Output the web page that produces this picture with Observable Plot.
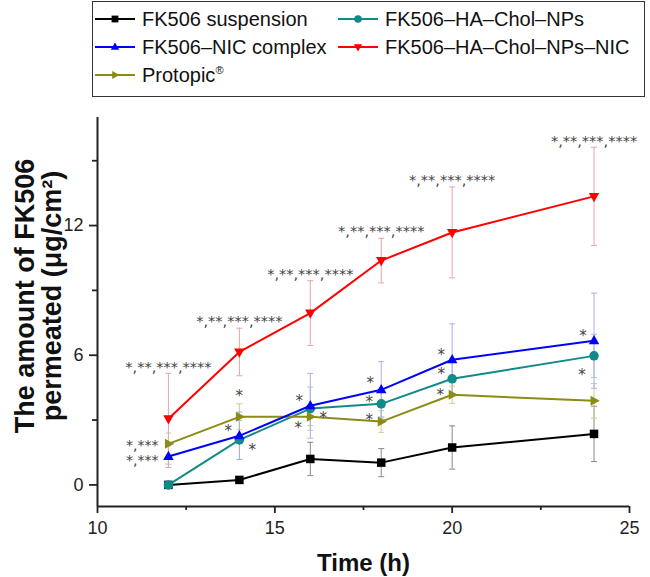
<!DOCTYPE html>
<html>
<head>
<meta charset="utf-8">
<script src="https://cdn.jsdelivr.net/npm/d3@7"></script>
<script src="https://cdn.jsdelivr.net/npm/@observablehq/plot@0.6"></script>
<style>
  body { margin: 0; background: #fff; font-family: "Liberation Sans", Arial, sans-serif; }
  #wrap { position: relative; width: 650px; height: 577px; }
  #legend { position: relative; width: 650px; height: 100px; }
  .lbox { position: absolute; left: 92px; top: 1px; width: 553px; height: 96px; border: 1.5px solid #333; box-sizing: border-box; }
  .item { position: absolute; display: flex; align-items: center; font-size: 20px; color: #111; white-space: nowrap; line-height: 1; }
  .item svg { margin-right: 7px; }
  .item sup { font-size: 11px; vertical-align: 8px; }
</style>
</head>
<body>
<div id="wrap"><div id="legend"><div class="lbox"></div></div><div id="chart"></div></div>
<script>
// ---- data ----
const times = [12, 14, 16, 18, 20, 24];
const suspensionMean = [0, 0.23, 1.2, 1.03, 1.73, 2.36];
const suspensionErr  = [0, 0.15, 0.77, 0.65, 1.0, 1.28];
const npsMean        = [0, 2.08, 3.53, 3.75, 4.91, 5.97];
const npsErr         = [0, 0.9, 1.0, 0.6, 0.8, 1.0];
const protopicMean   = [1.9, 3.15, 3.15, 2.93, 4.17, 3.89];
const protopicErr    = [0.5, 0.6, 0.4, 0.5, 0.4, 0.8];
const nicComplexMean = [1.31, 2.27, 3.66, 4.4, 5.79, 6.67];
const nicComplexErr  = [0.5, 1.1, 1.5, 1.3, 1.66, 2.2];
const npsNicMean     = [3.06, 6.15, 7.95, 10.38, 11.68, 13.35];
const npsNicErr      = [2.1, 1.1, 1.5, 1.03, 2.1, 2.27];

const seriesNames = ["FK506 suspension", "FK506–HA–Chol–NPs", "Protopic®", "FK506–NIC complex", "FK506–HA–Chol–NPs–NIC"];

const xDomain = [10, 25];
const yDomain = [-1, 17];
const xTicks = [10, 15, 20, 25];
const xMinorTicks = [12.5, 17.5, 22.5];
const yTicks = [0, 6, 12];
const yMinorTicks = [3, 9, 15];
const xTitle = "Time (h)";
const yTitle = "The amount of FK506\npermeated (μg/cm²)";

const bigNote = "*,**,***,****";
// significance marks: time, series it sits by, label, placement
const noteTimes  = [12, 12, 14, 14, 14, 16, 16, 16, 18, 18, 18, 20, 20, 20, 24, 24];
const noteSeries = ["Protopic®", "FK506–NIC complex",
  "Protopic®", "FK506–NIC complex", "FK506–HA–Chol–NPs",
  "FK506–NIC complex", "Protopic®", "FK506–HA–Chol–NPs",
  "FK506–NIC complex", "FK506–HA–Chol–NPs", "Protopic®",
  "FK506–NIC complex", "FK506–HA–Chol–NPs", "Protopic®",
  "FK506–NIC complex", "FK506–HA–Chol–NPs"];
const noteLabels = ["*,***", "*,***", "*", "*", "*", "*", "*", "*", "*", "*", "*", "*", "*", "*", "*", "*"];
const notePlaces = ["start-up", "start-down",
  "above", "upper-left", "lower-right",
  "upper-left", "right", "lower-left",
  "upper-left-far", "left-high", "left-high",
  "upper-left", "upper-left", "left",
  "upper-left", "lower-left"];

// ---- symbols ----
function sym(kind) {
  return {
    draw(ctx, size) {
      const r = Math.sqrt(size / Math.PI);
      if (kind === "square") { const h = 0.85 * r; ctx.rect(-h, -h, 2 * h, 2 * h); }
      else if (kind === "circle") { ctx.moveTo(0.95 * r, 0); ctx.arc(0, 0, 0.95 * r, 0, 2 * Math.PI); }
      else if (kind === "up") { ctx.moveTo(0, -1.15 * r); ctx.lineTo(1.05 * r, 0.7 * r); ctx.lineTo(-1.05 * r, 0.7 * r); ctx.closePath(); }
      else if (kind === "down") { ctx.moveTo(0, 1.15 * r); ctx.lineTo(1.05 * r, -0.7 * r); ctx.lineTo(-1.05 * r, -0.7 * r); ctx.closePath(); }
      else if (kind === "right") { ctx.moveTo(1.15 * r, 0); ctx.lineTo(-0.7 * r, -1.0 * r); ctx.lineTo(-0.7 * r, 1.0 * r); ctx.closePath(); }
    }
  };
}
const capSymbol = { draw(ctx) { ctx.moveTo(-3, 0); ctx.lineTo(3, 0); } };

const means = [suspensionMean, npsMean, protopicMean, nicComplexMean, npsNicMean];
const errs = [suspensionErr, npsErr, protopicErr, nicComplexErr, npsNicErr];
const styles = [
  { color: "#000000", err: "#8a8a8a", symbol: "square" },
  { color: "#128a8a", err: "#a3caca", symbol: "circle" },
  { color: "#8b8b15", err: "#cdcd98", symbol: "right" },
  { color: "#0000ff", err: "#aeaeea", symbol: "up" },
  { color: "#ff0000", err: "#eba3ab", symbol: "down" }
];
const series = seriesNames.map((name, k) => ({
  name, ...styles[k],
  rows: times.map((t, i) => ({ series: name, time: t, value: means[k][i], err: errs[k][i] }))
}));
const byName = Object.fromEntries(series.map(s => [s.name, s]));

const notes = noteTimes.map((t, i) => {
  const s = byName[noteSeries[i]];
  return { time: t, value: s.rows[times.indexOf(t)].value, label: noteLabels[i], place: notePlaces[i] };
});
const starSize = 15;
const placeStyle = {
  "start-up":       { dx: -10, dy: -2,  anchor: "end", size: 14 },
  "start-down":     { dx: -10, dy: 1,   anchor: "end", size: 14 },
  "above":          { dx: 0,   dy: -24, anchor: "middle", size: starSize },
  "upper-left":     { dx: -11, dy: -8,  anchor: "middle", size: starSize },
  "upper-left-far": { dx: -11, dy: -10, anchor: "middle", size: starSize },
  "left":           { dx: -12, dy: -3,  anchor: "middle", size: starSize },
  "left-high":      { dx: -12, dy: -5,  anchor: "middle", size: starSize },
  "lower-left":     { dx: -12, dy: 16,  anchor: "middle", size: starSize },
  "right":          { dx: 13,  dy: -2,  anchor: "middle", size: starSize },
  "lower-right":    { dx: 13,  dy: 7,   anchor: "middle", size: starSize }
};
const starFont = "'DejaVu Sans', sans-serif";
const starShift = size => 0.245 * size; // asterisk glyph sits high in the line

const marks = [];
for (const s of series) {
  const eb = s.rows.filter(d => d.err > 0);
  marks.push(Plot.ruleX(eb, { x: "time", y1: d => d.value - d.err, y2: d => d.value + d.err, stroke: s.err, strokeWidth: 1 }));
  marks.push(Plot.dot(eb, { x: "time", y: d => d.value + d.err, symbol: capSymbol, r: 3, stroke: s.err, fill: "none", strokeWidth: 1 }));
  marks.push(Plot.dot(eb, { x: "time", y: d => d.value - d.err, symbol: capSymbol, r: 3, stroke: s.err, fill: "none", strokeWidth: 1 }));
}
for (const s of series) {
  marks.push(Plot.line(s.rows, { x: "time", y: "value", stroke: s.color, strokeWidth: 2 }));
  marks.push(Plot.dot(s.rows, { x: "time", y: "value", symbol: sym(s.symbol), r: 5, fill: s.color, stroke: "none" }));
}
marks.push(Plot.text(byName["FK506–HA–Chol–NPs–NIC"].rows, {
  x: "time", y: d => d.value + d.err, text: () => bigNote, fontSize: 14.5, fontFamily: starFont, fill: "#444",
  textAnchor: "middle", lineAnchor: "middle", dy: -10 + starShift(14.5)
}));
for (const [key, p] of Object.entries(placeStyle)) {
  marks.push(Plot.text(notes.filter(n => n.place === key), {
    x: "time", y: "value", text: "label", fontSize: p.size, fontFamily: starFont, fill: "#444",
    textAnchor: p.anchor, lineAnchor: "middle", dx: p.dx, dy: p.dy + starShift(p.size)
  }));
}
marks.push(
  Plot.axisY({ ticks: yTicks, tickSize: 8, tickPadding: 6, fontSize: 18, label: null, stroke: "#222", strokeWidth: 1.8, fill: "#222" }),
  Plot.axisY({ ticks: yMinorTicks, tickSize: 5, tickFormat: () => "", label: null, stroke: "#222", strokeWidth: 1.8 }),
  Plot.axisX({ ticks: xTicks, tickSize: 7, tickPadding: 8, fontSize: 18, label: null, stroke: "#222", strokeWidth: 1.8, fill: "#222" }),
  Plot.axisX({ ticks: xMinorTicks, tickSize: 4, tickFormat: () => "", label: null, stroke: "#222", strokeWidth: 1.8 }),
  Plot.ruleX([xDomain[0]], { stroke: "#222", strokeWidth: 2 }),
  Plot.ruleY([yDomain[0]], { stroke: "#222", strokeWidth: 2 }),
  Plot.text([xTitle], { text: d => d, frameAnchor: "bottom", dy: 57, fontSize: 24, fontWeight: "bold", fill: "#111", lineAnchor: "middle" }),
  Plot.text([yTitle], { text: d => d, frameAnchor: "left", dx: -59, dy: -16, rotate: -90, fontSize: 27, fontWeight: "bold", fill: "#111", textAnchor: "middle", lineAnchor: "middle", lineHeight: 1.02 })
);

const chart = Plot.plot({
  width: 650, height: 477,
  marginLeft: 97, marginRight: 21, marginTop: 17, marginBottom: 71,
  x: { domain: xDomain }, y: { domain: yDomain },
  style: { fontFamily: "'Liberation Sans', Arial, sans-serif", background: "#fff", overflow: "visible" },
  marks
});
document.getElementById("chart").appendChild(chart);

// ---- legend ----
const legendPos = [
  { left: 95, top: 19 }, { left: 338, top: 19 }, { left: 95, top: 75 }, { left: 95, top: 47 }, { left: 338, top: 47 }
];
const legend = document.getElementById("legend");
series.forEach((s, k) => {
  const item = document.createElement("div");
  item.className = "item";
  item.style.left = legendPos[k].left + "px";
  item.style.top = (legendPos[k].top - 11) + "px";
  item.style.height = "22px";
  const p = d3.path();
  sym(s.symbol).draw(p, Math.PI * 16);
  item.innerHTML = `<svg width="40" height="22" viewBox="-20 -11 40 22"><line x1="-20" x2="20" y1="0" y2="0" stroke="${s.color}" stroke-width="2"/><path d="${p.toString()}" fill="${s.color}"/></svg>` +
    `<span>${s.name.replace("®", "<sup>®</sup>")}</span>`;
  legend.appendChild(item);
});
</script>
</body>
</html>
